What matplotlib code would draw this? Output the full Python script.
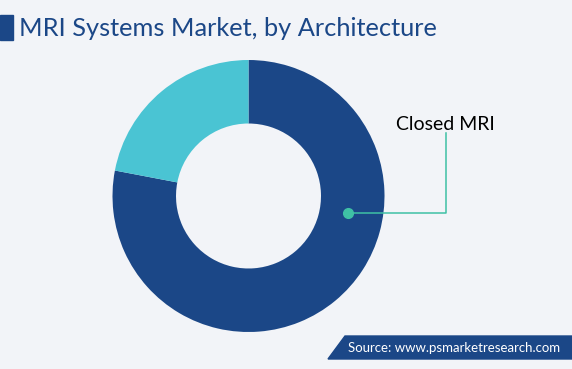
import matplotlib.pyplot as plt
from matplotlib.patches import Polygon, Rectangle

# market share by architecture (%)
categories = ['Closed MRI', 'Open MRI']
shares = [78, 22]
colors = ['#1B4787', '#4AC4D3']

title = 'MRI Systems Market, by Architecture'
source = 'Source: www.psmarketresearch.com'

bg = '#F2F4F8'
dark = '#1B4787'
teal = '#3FC1A5'

fig = plt.figure(figsize=(5.72, 3.69), dpi=100, facecolor=bg)
ax = fig.add_axes([0, 0, 1, 1])
ax.set_facecolor(bg)

# donut, closed MRI clockwise from top
ax.pie(shares, colors=colors, startangle=90, counterclock=False,
       center=(248.5, 173), radius=136, frame=True,
       wedgeprops=dict(width=136 * 0.467, linewidth=0))

ax.set_xlim(0, 572)
ax.set_ylim(0, 369)
ax.set_aspect('auto')
ax.axis('off')

# title with marker block
ax.add_patch(Rectangle((0, 329), 13, 25, color=dark, clip_on=False))
ax.text(19, 341, title, fontsize=18.3, color=dark, family='Lato',
        va='center', ha='left')

# callout for closed MRI
ax.plot([348, 446, 446], [156, 156, 236], color=teal, lw=1.1)
ax.plot(348, 156, 'o', color=teal, ms=7)
ax.text(445, 244, categories[0], fontsize=14, color='black', family='Lato',
        ha='center', va='center')

# source banner
ax.add_patch(Polygon([(328, 10), (345, 33), (572, 33), (572, 10)],
                     closed=True, color=dark, clip_on=False))
ax.text(348, 21.5, source, fontsize=9.5, color='white', family='Lato',
        ha='left', va='center')

fig.savefig('out.png', dpi=100, facecolor=bg)
